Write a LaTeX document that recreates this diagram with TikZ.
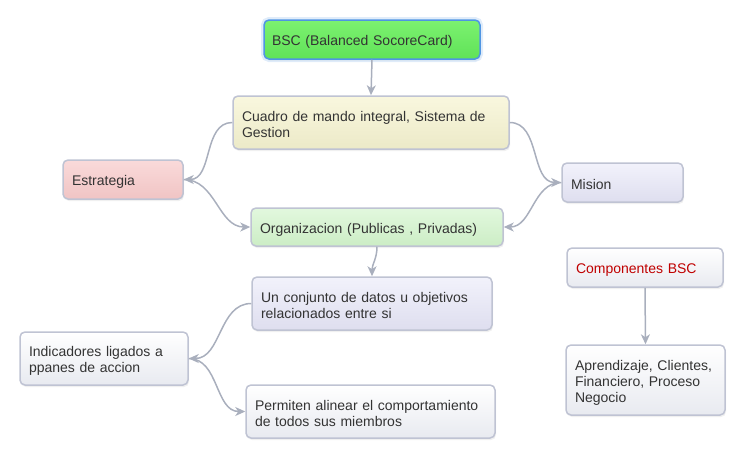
\documentclass[tikz,border=0pt]{standalone}
\usepackage{fontspec}
\setmainfont{Liberation Sans}
\usetikzlibrary{arrows.meta,shadows}
\definecolor{edgegray}{HTML}{A9AFBD}
\definecolor{boxline}{HTML}{BFC3D3}
\definecolor{txt}{HTML}{333333}
\definecolor{compred}{HTML}{C00000}
\definecolor{glowblue}{HTML}{4F95E3}
\begin{document}
\begin{tikzpicture}[x=1pt,y=-1pt,
  font=\fontsize{14}{16}\selectfont, text=txt,
  box/.style={rectangle, rounded corners=5pt, draw=boxline, line width=1.5pt,
    align=left, inner xsep=8pt, inner ysep=0pt,
    execute at begin node={\rule{0pt}{15pt}},
    drop shadow={shadow xshift=1pt, shadow yshift=-2pt, opacity=0.12}},
  greenbox/.style={box, draw=glowblue, top color={rgb,255:red,124;green,242;blue,112}, bottom color={rgb,255:red,96;green,226;blue,88},
    preaction={draw=glowblue!35, line width=6pt, opacity=0.5}},
  yellowbox/.style={box, top color={rgb,255:red,249;green,247;blue,222}, bottom color={rgb,255:red,236;green,234;blue,200}},
  pinkbox/.style={box, top color={rgb,255:red,250;green,218;blue,218}, bottom color={rgb,255:red,240;green,196;blue,196}},
  lilabox/.style={box, top color={rgb,255:red,242;green,242;blue,251}, bottom color={rgb,255:red,222;green,222;blue,239}},
  lgreenbox/.style={box, top color={rgb,255:red,226;green,248;blue,222}, bottom color={rgb,255:red,204;green,237;blue,197}},
  whitebox/.style={box, top color=white, bottom color={rgb,255:red,232;green,234;blue,240}},
  link/.style={draw=edgegray, line width=1.5pt, -{Stealth[length=10pt,width=9pt,inset=3pt]}}]
\useasboundingbox (0,0) rectangle (745,459);

% Top of the map
\node[greenbox, minimum width=216pt, minimum height=39pt, text width=200pt] (bsc) at (372,39.5) {BSC (Balanced SocoreCard)};
\node[yellowbox, minimum width=276pt, minimum height=53pt, text width=258pt] (cuadro) at (371,122.5) {Cuadro de mando integral, Sistema de\\Gestion};

% The two side boxes and the organizacion box
\node[pinkbox, minimum width=120pt, minimum height=39pt, text width=102pt] (estrategia) at (123,179.5) {Estrategia};
\node[lilabox, minimum width=121pt, minimum height=39pt, text width=103pt] (mision) at (622.5,182.5) {Mision};
\node[lgreenbox, minimum width=252pt, minimum height=38pt, text width=234pt] (organizacion) at (377,227) {Organizacion (Publicas , Privadas)};

% Lower left part
\node[lilabox, minimum width=240pt, minimum height=53pt, text width=222pt] (conjunto) at (372,303.5) {Un conjunto de datos u objetivos\\relacionados entre si};
\node[whitebox, minimum width=168pt, minimum height=53pt, text width=150pt] (indicadores) at (104,358.5) {Indicadores ligados a\\ppanes de accion};
\node[whitebox, minimum width=249pt, minimum height=53pt, text width=231pt] (permiten) at (370.5,411.5) {Permiten alinear el comportamiento\\de todos sus miembros};

% Components on the right
\node[whitebox, minimum width=156pt, minimum height=39pt, text width=138pt, text=compred] (componentes) at (645,267.5) {Componentes BSC};
\node[whitebox, minimum width=159pt, minimum height=70pt, text width=141pt] (aprendizaje) at (645.5,380) {Aprendizaje, Clientes,\\Financiero, Proceso\\Negocio};

% Connectors
\draw[link] (bsc.south) -- (cuadro.north);
\draw[link] (cuadro.west) to[out=180,in=0] (estrategia.east);
\draw[link] (estrategia.east) to[out=0,in=180] (organizacion.west);
\draw[link] (cuadro.east) to[out=0,in=180] (mision.west);
\draw[link] (mision.west) to[out=180,in=0] (organizacion.east);
\draw[link] (organizacion.south) to[out=-90,in=90] (conjunto.north);
\draw[link] (conjunto.west) to[out=180,in=0] (indicadores.east);
\draw[link] (indicadores.east) to[out=0,in=180] (permiten.west);
\draw[link] (componentes.south) -- (aprendizaje.north);

\end{tikzpicture}
\end{document}
